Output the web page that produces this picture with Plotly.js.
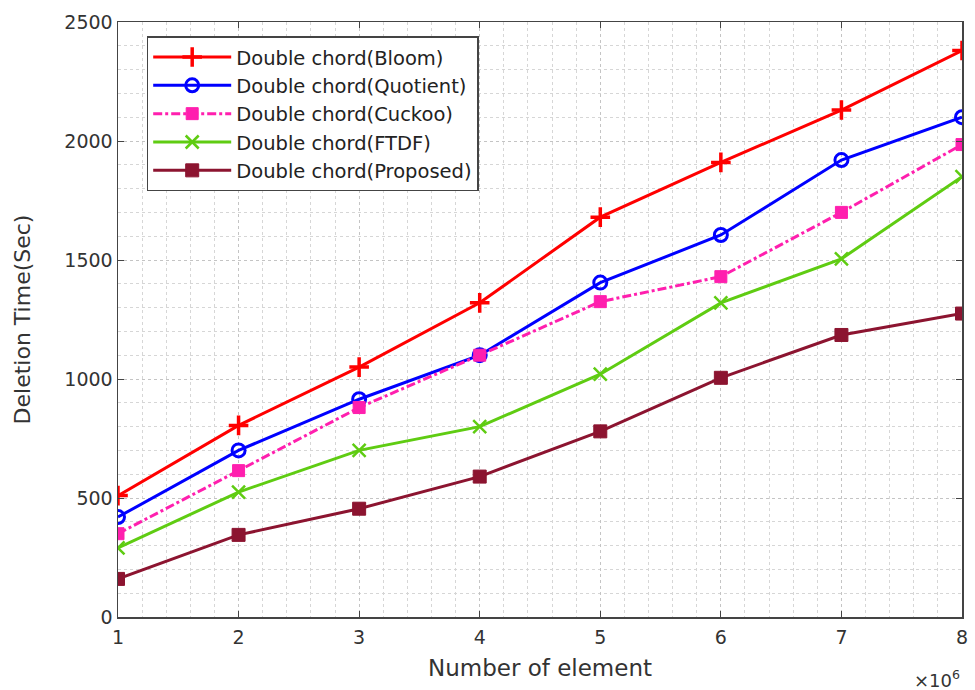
<!DOCTYPE html>
<html>
<head>
<meta charset="utf-8">
<script src="https://cdn.plot.ly/plotly-3.0.1.min.js"></script>
<style>html,body{margin:0;padding:0;background:#fff;}#chart{width:975px;height:690px;}</style>
</head>
<body>
<div id="chart"></div>
<script>
const elements = [1, 2, 3, 4, 5, 6, 7, 8];
const bloom    = [510, 805, 1050, 1320, 1680, 1910, 2130, 2380];
const quotient = [420, 700, 915, 1100, 1405, 1605, 1920, 2100];
const cuckoo   = [350, 615, 880, 1100, 1325, 1430, 1700, 1985];
const ftdf     = [290, 525, 700, 800, 1020, 1320, 1505, 1850];
const proposed = [160, 345, 455, 590, 780, 1005, 1185, 1275];
const seriesNames = ["Double chord(Bloom)", "Double chord(Quotient)", "Double chord(Cuckoo)", "Double chord(FTDF)", "Double chord(Proposed)"];
const yTicks = [0, 500, 1000, 1500, 2000, 2500];

const FONT = "DejaVu Sans, Liberation Sans, Arial, sans-serif";
const styles = [
  {color: "#ff0000", dash: "solid", symbol: "cross-thin-open", size: 14, lw: 3.5},
  {color: "#0000ff", dash: "solid", symbol: "circle-open", size: 13, lw: 3},
  {color: "#ff1fae", dash: "dashdot", symbol: "square", size: 12, lw: 1},
  {color: "#5fcc12", dash: "solid", symbol: "x-thin-open", size: 13, lw: 2.5},
  {color: "#8c1430", dash: "solid", symbol: "square", size: 13, lw: 1}
];
const data = [bloom, quotient, cuckoo, ftdf, proposed].map((ys, i) => ({
  x: elements, y: ys, name: seriesNames[i], legendgroup: "g" + i,
  type: "scatter", mode: "lines+markers",
  line: {color: styles[i].color, width: 3, dash: styles[i].dash},
  marker: {symbol: styles[i].symbol, size: styles[i].size, color: styles[i].color,
           line: {color: styles[i].color, width: styles[i].lw}}
}));

const axisCommon = {
  showline: true, mirror: "ticks", linecolor: "#444", linewidth: 1.5,
  ticks: "inside", ticklen: 6, tickcolor: "#444",
  showgrid: true, gridcolor: "#c4c4c4", griddash: "dot", gridwidth: 1,
  zeroline: false, tickfont: {family: FONT, size: 19, color: "#333"}
};

const layout = {
  width: 975, height: 690,
  margin: {l: 118, r: 13, t: 22, b: 73},
  paper_bgcolor: "#fff", plot_bgcolor: "#fff",
  showlegend: true,
  legend: {x: 0.034, y: 0.976, xanchor: "left", yanchor: "top",
           bgcolor: "#fff", bordercolor: "#444", borderwidth: 1.5,
           font: {family: FONT, size: 19.5, color: "#222"},
           tracegroupgap: 0, itemwidth: 78},
  xaxis: Object.assign({}, axisCommon, {
    range: [1, 8], tickvals: elements, ticktext: elements.map(String),
    ticklabelstandoff: 3,
    minor: {dtick: 0.2, showgrid: true, gridcolor: "#d6d6d6", griddash: "dot", gridwidth: 1},
    title: {text: "Number of element", font: {family: FONT, size: 23, color: "#333"}, standoff: 12}
  }),
  yaxis: Object.assign({}, axisCommon, {
    range: [0, 2500], tickvals: yTicks,
    minor: {dtick: 100, showgrid: true, gridcolor: "#d6d6d6", griddash: "dot", gridwidth: 1},
    title: {text: "Deletion Time(Sec)", font: {family: FONT, size: 22, color: "#333"}, standoff: 27}
  }),
  annotations: [{
    xref: "paper", yref: "paper", x: 1.0, y: -0.128, xanchor: "right", yanchor: "bottom",
    text: "×10<sup>6</sup>", showarrow: false,
    font: {family: FONT, size: 18, color: "#333"}
  }]
};

Plotly.newPlot("chart", data, layout, {displayModeBar: false, staticPlot: true});
</script>
</body>
</html>
